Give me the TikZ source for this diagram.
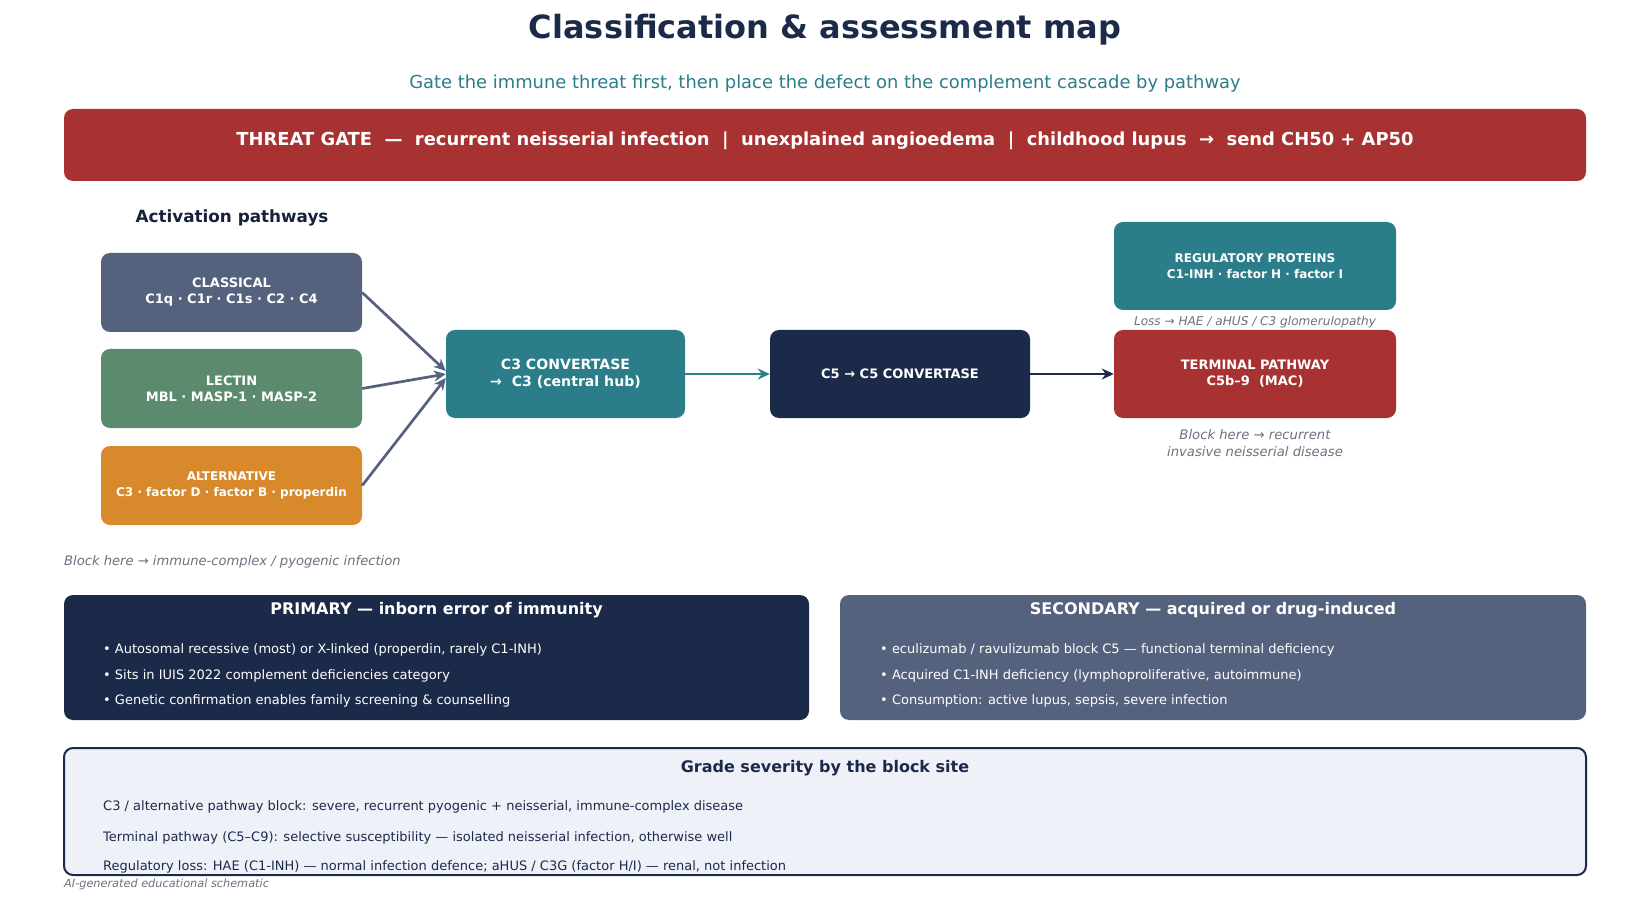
\documentclass[tikz,border=0pt]{standalone}
\usepackage{fontspec}
\setmainfont{DejaVu Sans}
\usetikzlibrary{arrows.meta,positioning}
\definecolor{navy}{HTML}{1C2A4A}
\definecolor{slate}{HTML}{55627E}
\definecolor{sage}{HTML}{5B8A6F}
\definecolor{amber}{HTML}{D8892B}
\definecolor{teal}{HTML}{2A7D89}
\definecolor{brick}{HTML}{A83232}
\definecolor{muted}{HTML}{6B7280}
\definecolor{mist}{HTML}{EEF1F8}
\tikzset{
  stage/.style={rectangle, rounded corners=9pt, inner sep=0pt, text=white, align=center,
    font=\bfseries\fontsize{13}{16}\selectfont},
  panel/.style={rectangle, rounded corners=9pt, inner sep=0pt},
  feed/.style={-{Stealth[length=12pt,width=11pt]}, line width=2.7pt},
  note/.style={text=muted, align=center, font=\itshape\fontsize{13.2}{17}\selectfont},
  bullet/.style={anchor=west, inner sep=0pt, text=white, font=\fontsize{13}{15}\selectfont},
  grade/.style={anchor=west, inner sep=0pt, text=navy, font=\fontsize{13}{15}\selectfont}
}
\begin{document}
\begin{tikzpicture}[x=1pt, y=-1pt]
    \fill[white] (0,0) rectangle (1650,901);
    \useasboundingbox (0,0) rectangle (1650,901);
    % heading
    \node (title) at (825,30) [text=navy, font=\bfseries\fontsize{32}{38}\selectfont] {Classification \& assessment map};
    \node (subtitle) at (825,84) [text=teal, font=\fontsize{17.9}{20}\selectfont] {Gate the immune threat first, then place the defect on the complement cascade by pathway};
    \node (gate) at (825,145) [panel, fill=brick, minimum width=1522pt, minimum height=72pt] {};
    \node (gatetext) at (825,141) [text=white, font=\bfseries\fontsize{17.9}{20}\selectfont]
        {THREAT GATE~ —~ recurrent neisserial infection~ |~ unexplained angioedema~ |~ childhood lupus~ →~ send CH50 + AP50};
    % cascade
    \node (pathways) at (232,218) [text=navy!80!black, font=\bfseries\fontsize{16.8}{18}\selectfont] {Activation pathways};
    \node (classical) at (231.5,292.5) [stage, fill=slate, minimum width=261pt, minimum height=79pt] {CLASSICAL\\C1q · C1r · C1s · C2 · C4};
    \node (lectin) at (231.5,388.5) [stage, fill=sage, minimum width=261pt, minimum height=79pt] {LECTIN\\MBL · MASP-1 · MASP-2};
    \node (alternative) at (231.5,485.5) [stage, fill=amber, minimum width=261pt, minimum height=79pt,
        font=\bfseries\fontsize{12}{16}\selectfont] {ALTERNATIVE\\C3 · factor D · factor B · properdin};
    \node (c3) at (565.5,374) [stage, fill=teal, minimum width=239pt, minimum height=88pt,
        font=\bfseries\fontsize{14.1}{17}\selectfont] {C3 CONVERTASE\\→~~C3 (central hub)};
    \node (c5) at (900,374) [stage, fill=navy, minimum width=260pt, minimum height=88pt] {C5 → C5 CONVERTASE};
    \node (regulatory) at (1255,266) [stage, fill=teal, minimum width=282pt, minimum height=88pt,
        font=\bfseries\fontsize{12}{16}\selectfont] {REGULATORY PROTEINS\\C1-INH · factor H · factor I};
    \node (terminal) at (1255,374) [stage, fill=brick, minimum width=282pt, minimum height=88pt] {TERMINAL PATHWAY\\C5b–9~ (MAC)};
    \node (lossnote) at (1255,322) [note, font=\itshape\fontsize{12.1}{14}\selectfont] {Loss → HAE / aHUS / C3 glomerulopathy};
    \node (termnote) at (1255,443) [note] {Block here → recurrent\\invasive neisserial disease};
    \node (pathnote) at (64,562) [note, anchor=west, inner sep=0pt, font=\itshape\fontsize{13.1}{15}\selectfont] {Block here → immune-complex / pyogenic infection};
    \draw[feed, slate] (classical.east) -- ([yshift=3pt]c3.west);
    \draw[feed, slate] (lectin.east) -- (c3.west);
    \draw[feed, slate] (alternative.east) -- ([yshift=-4pt]c3.west);
    \draw[feed, teal] (c3) -- (c5);
    \draw[feed, navy] (c5) -- (terminal);
    % primary / secondary
    \node (primary) at (436.5,657.5) [panel, fill=navy, minimum width=745pt, minimum height=125pt] {};
    \node (secondary) at (1213,657.5) [panel, fill=slate, minimum width=746pt, minimum height=125pt] {};
    \node at (436.5,610) [text=white, font=\bfseries\fontsize{16}{19}\selectfont] {PRIMARY — inborn error of immunity};
    \node at (1213,610) [text=white, font=\bfseries\fontsize{16}{19}\selectfont] {SECONDARY — acquired or drug-induced};
    \node at (103,650) [bullet] {• Autosomal recessive (most) or X-linked (properdin, rarely C1-INH)};
    \node at (103,676) [bullet] {• Sits in IUIS 2022 complement deficiencies category};
    \node at (103,701) [bullet] {• Genetic confirmation enables family screening \& counselling};
    \node at (880,650) [bullet] {• eculizumab / ravulizumab block C5 — functional terminal deficiency};
    \node at (880,676) [bullet] {• Acquired C1-INH deficiency (lymphoproliferative, autoimmune)};
    \node at (880,701) [bullet] {• Consumption: active lupus, sepsis, severe infection};
    % severity grading
    \node (severity) at (825,811.5) [panel, fill=mist, draw=navy, line width=2pt, minimum width=1522pt, minimum height=127pt] {};
    \node at (825,768) [text=navy, font=\bfseries\fontsize{16}{19}\selectfont] {Grade severity by the block site};
    \node at (103,807) [grade] {C3 / alternative pathway block: severe, recurrent pyogenic + neisserial, immune-complex disease};
    \node at (103,838) [grade] {Terminal pathway (C5–C9): selective susceptibility — isolated neisserial infection, otherwise well};
    \node at (103,867) [grade] {Regulatory loss: HAE (C1-INH) — normal infection defence; aHUS / C3G (factor H/I) — renal, not infection};
    \node at (64,884) [note, anchor=west, inner sep=0pt, font=\itshape\fontsize{11.3}{12}\selectfont] {AI-generated educational schematic};
\end{tikzpicture}
\end{document}
